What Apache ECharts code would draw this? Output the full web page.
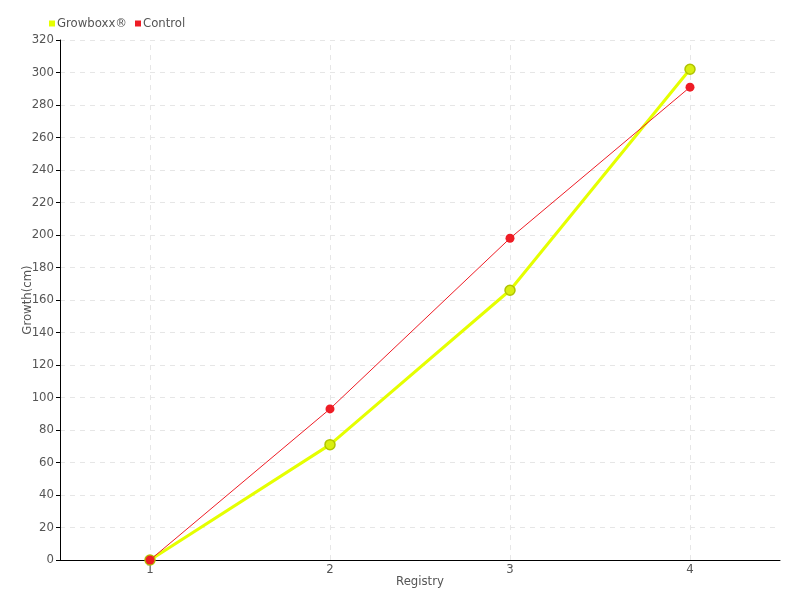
<!DOCTYPE html>
<html><head><meta charset="utf-8">
<script src="https://cdn.jsdelivr.net/npm/echarts@6/dist/echarts.min.js"></script>
<style>html,body{margin:0;padding:0;background:#fff}#c{width:800px;height:600px}</style>
</head><body><div id="c"></div>
<script>
const categories = ['1', '2', '3', '4'];
const growboxx = [0, 71, 166, 302];
const control = [0, 93, 198, 291];
const font = '"DejaVu Sans Condensed", "Liberation Sans Narrow", sans-serif';
const chart = echarts.init(document.getElementById('c'));
chart.setOption({
  animation: false,
  textStyle: {fontFamily: font},
  legend: {
    left: 44, top: 12, itemWidth: 6, itemHeight: 6, itemGap: 8,
    icon: 'rect',
    textStyle: {fontFamily: font, fontSize: 13, color: '#555', padding: [0, 0, 0, -3]},
    data: [{name: 'Growboxx®', itemStyle: {color: '#e5ff00', borderWidth: 0}}, {name: 'Control', itemStyle: {color: '#ee1c25', borderWidth: 0}}]
  },
  grid: {left: 60, right: 20, top: 40, bottom: 40, containLabel: false, outerBoundsMode: 'none'},
  xAxis: {
    type: 'category', data: categories, boundaryGap: true,
    name: 'Registry', nameLocation: 'middle', nameGap: 15, nameMoveOverlap: false,
    nameTextStyle: {fontFamily: font, fontSize: 13, color: '#555'},
    axisLine: {lineStyle: {color: '#000'}},
    axisTick: {alignWithLabel: true, lineStyle: {color: '#333'}, length: 5},
    axisLabel: {fontFamily: font, fontSize: 13, color: '#555', margin: 3},
    splitLine: {show: false}
  },
  yAxis: {
    type: 'value', min: 0, max: 320, interval: 20,
    name: 'Growth(cm)', nameLocation: 'middle', nameGap: 26, nameMoveOverlap: false,
    nameTextStyle: {fontFamily: font, fontSize: 13, color: '#555'},
    axisLine: {show: true, lineStyle: {color: '#000'}},
    axisTick: {show: true, inside: false, length: 4, lineStyle: {color: '#000'}},
    axisLabel: {fontFamily: font, fontSize: 13, color: '#555', margin: 6},
    splitLine: {show: true, lineStyle: {color: '#e6e6e6', type: [5, 5]}}
  },
  series: [
    {name: 'Growboxx®', type: 'line', data: growboxx, symbol: 'circle', symbolSize: 10,
      lineStyle: {color: '#e5ff00', width: 3},
      itemStyle: {color: '#d9ef10', borderColor: '#b0c400', borderWidth: 1.5},
      markLine: {silent: true, symbol: 'none', label: {show: false},
        lineStyle: {color: '#e6e6e6', type: [5, 5], width: 1},
        data: categories.map(c => ({xAxis: c})), z: 0},
      z: 2},
    {name: 'Control', type: 'line', data: control, symbol: 'circle', symbolSize: 9,
      lineStyle: {color: '#ee1c25', width: 1},
      itemStyle: {color: '#ee1c25', borderColor: '#ee1c25', borderWidth: 0}, z: 3}
  ]
});
</script></body></html>
